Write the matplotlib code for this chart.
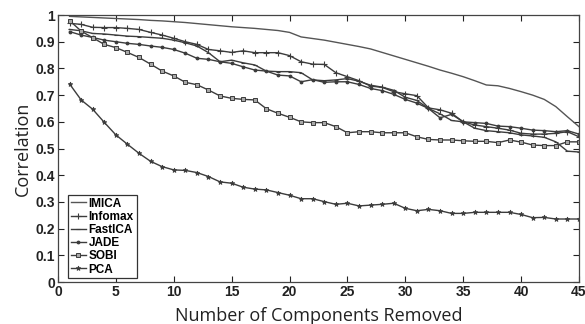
import numpy as np
import matplotlib.pyplot as plt

# komponen yang dihapus (1..45)
n_removed = np.arange(1, 46)

imica = [0.995, 0.993, 0.991, 0.989, 0.987, 0.985, 0.983, 0.980, 0.978, 0.975,
         0.972, 0.968, 0.964, 0.960, 0.956, 0.953, 0.950, 0.946, 0.942, 0.935,
         0.918, 0.912, 0.906, 0.898, 0.890, 0.882, 0.873, 0.860, 0.847, 0.834,
         0.821, 0.808, 0.794, 0.782, 0.769, 0.754, 0.738, 0.735, 0.725, 0.713,
         0.700, 0.684, 0.657, 0.619, 0.582]

infomax = [0.969, 0.965, 0.954, 0.953, 0.953, 0.950, 0.946, 0.935, 0.925, 0.913,
           0.900, 0.890, 0.871, 0.866, 0.860, 0.866, 0.859, 0.859, 0.859, 0.848,
           0.825, 0.816, 0.815, 0.784, 0.769, 0.754, 0.734, 0.729, 0.713, 0.705,
           0.698, 0.652, 0.645, 0.632, 0.600, 0.588, 0.582, 0.576, 0.569, 0.557,
           0.554, 0.554, 0.557, 0.563, 0.544]

fastica = [0.946, 0.941, 0.931, 0.929, 0.925, 0.921, 0.919, 0.916, 0.913, 0.906,
           0.896, 0.884, 0.859, 0.825, 0.831, 0.821, 0.813, 0.790, 0.788, 0.788,
           0.784, 0.757, 0.754, 0.757, 0.762, 0.752, 0.737, 0.730, 0.718, 0.692,
           0.680, 0.650, 0.630, 0.605, 0.600, 0.576, 0.567, 0.563, 0.559, 0.551,
           0.547, 0.542, 0.525, 0.490, 0.487]

jade = [0.938, 0.925, 0.916, 0.906, 0.900, 0.894, 0.890, 0.884, 0.879, 0.871,
        0.857, 0.838, 0.834, 0.825, 0.819, 0.806, 0.794, 0.790, 0.775, 0.772,
        0.750, 0.758, 0.748, 0.750, 0.750, 0.740, 0.725, 0.717, 0.703, 0.684,
        0.670, 0.650, 0.615, 0.628, 0.600, 0.597, 0.594, 0.584, 0.582, 0.576,
        0.569, 0.567, 0.563, 0.567, 0.554]

sobi = [0.979, 0.940, 0.915, 0.890, 0.878, 0.860, 0.841, 0.816, 0.790, 0.772,
        0.748, 0.739, 0.719, 0.697, 0.688, 0.684, 0.682, 0.649, 0.632, 0.617,
        0.600, 0.597, 0.597, 0.582, 0.559, 0.563, 0.563, 0.559, 0.559, 0.559,
        0.544, 0.534, 0.532, 0.532, 0.529, 0.527, 0.527, 0.522, 0.532, 0.524,
        0.513, 0.511, 0.511, 0.525, 0.525]

pca = [0.742, 0.682, 0.647, 0.598, 0.551, 0.516, 0.482, 0.452, 0.432, 0.420,
       0.418, 0.410, 0.395, 0.375, 0.370, 0.355, 0.348, 0.345, 0.335, 0.325,
       0.312, 0.312, 0.301, 0.291, 0.295, 0.285, 0.288, 0.291, 0.295, 0.276,
       0.267, 0.272, 0.267, 0.257, 0.257, 0.261, 0.261, 0.261, 0.261, 0.253,
       0.241, 0.242, 0.236, 0.236, 0.236]

warna = '#3c3c3c'

fig = plt.figure(figsize=(5.85, 3.24), dpi=100)
ax = fig.add_axes([0.0991, 0.1296, 0.8906, 0.824])

ax.plot(n_removed, imica, color='#555555', lw=1.0, label='IMICA')
ax.plot(n_removed, infomax, color=warna, lw=1.0, marker='+', ms=4, mew=0.8, label='Infomax')
ax.plot(n_removed, fastica, color=warna, lw=1.0, marker='_', ms=3, mew=0.8, label='FastICA')
ax.plot(n_removed, jade, color=warna, lw=1.0, marker='.', ms=3.5, label='JADE')
ax.plot(n_removed, sobi, color=warna, lw=1.0, marker='s', ms=3, mfc='#a8a8a8', mew=0.7, label='SOBI')
ax.plot(n_removed, pca, color=warna, lw=1.0, marker='*', ms=3.5, mew=0.6, label='PCA')

ax.set_xlim(0, 45)
ax.set_ylim(0, 1)
ax.set_xticks(np.arange(0, 46, 5))
ax.set_yticks(np.arange(0, 1.01, 0.1))
ax.set_yticklabels(['0', '0.1', '0.2', '0.3', '0.4', '0.5', '0.6', '0.7', '0.8', '0.9', '1'])
ax.tick_params(direction='in', top=True, right=True, length=4, width=0.8,
               labelsize=10, pad=2, colors='#222222')
for lbl in ax.get_xticklabels() + ax.get_yticklabels():
    lbl.set_fontweight('bold')
    lbl.set_family('Liberation Sans')
for s in ax.spines.values():
    s.set_color('#444444')
    s.set_linewidth(0.9)

ax.set_xlabel('Number of Components Removed', fontsize=13, family='Open Sans', labelpad=6, color='#222222')
ax.set_ylabel('Correlation', fontsize=13, family='Open Sans', labelpad=3, color='#222222')

leg = ax.legend(loc='lower left', bbox_to_anchor=(0.012, 0.0), borderaxespad=0.3,
                prop={'family': 'Liberation Sans', 'weight': 'bold', 'size': 8.5},
                handlelength=1.3, handletextpad=0.2, labelspacing=0.1,
                borderpad=0.25, fancybox=False, framealpha=1)
leg.get_frame().set_edgecolor('#333333')
leg.get_frame().set_linewidth(0.9)

plt.savefig('out.png', dpi=100)
